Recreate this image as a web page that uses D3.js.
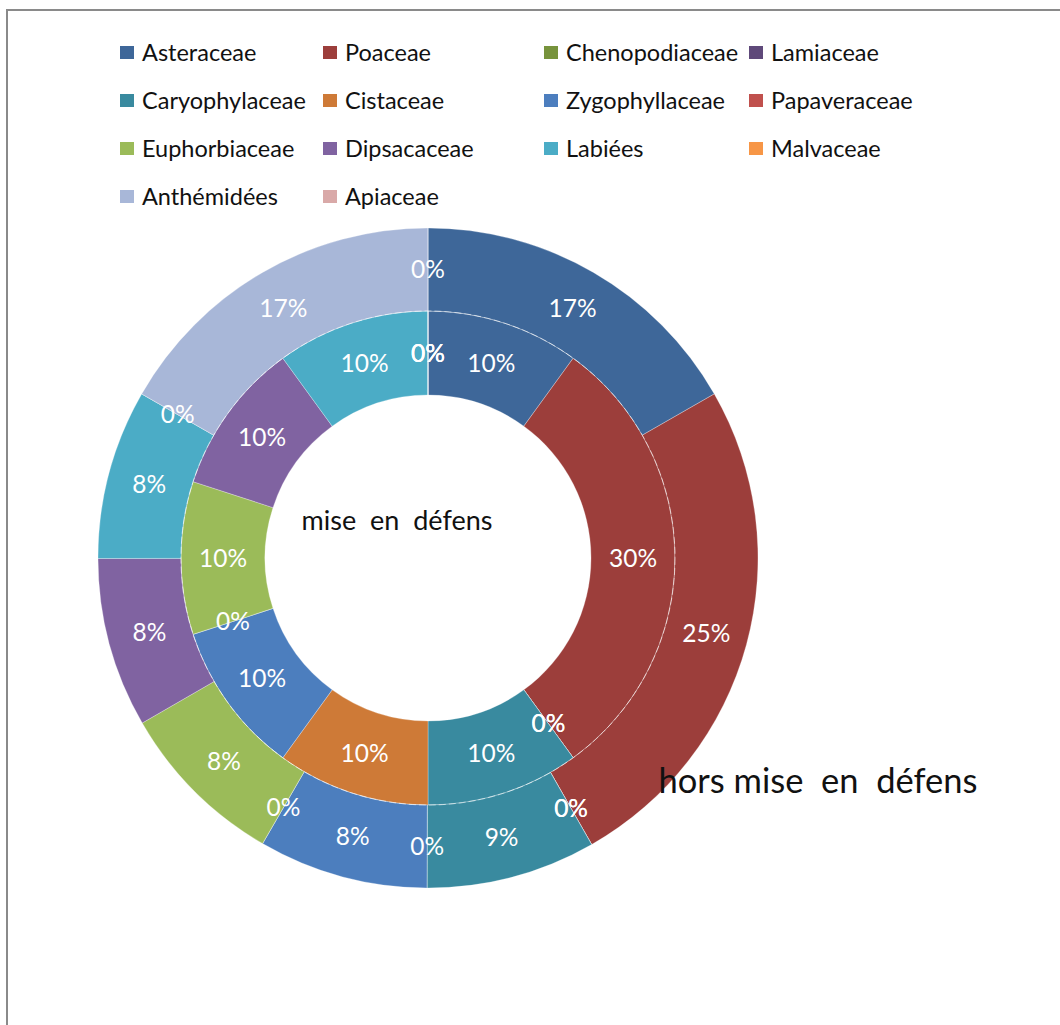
<!DOCTYPE html>
<html>
<head>
<meta charset="utf-8">
<script src="https://cdn.jsdelivr.net/npm/d3@7"></script>
<style>
  body { margin: 0; background: #fff; }
  svg { display: block; font-family: Lato, "Open Sans", sans-serif; }
</style>
</head>
<body>
<div id="viz-container"></div>
<script>
// families, in legend / slice order
const families = ['Asteraceae', 'Poaceae', 'Chenopodiaceae', 'Lamiaceae',
                  'Caryophylaceae', 'Cistaceae', 'Zygophyllaceae', 'Papaveraceae',
                  'Euphorbiaceae', 'Dipsacaceae', 'Labiées', 'Malvaceae',
                  'Anthémidées', 'Apiaceae'];
const colors = ['#3e6799', '#9c3e3b', '#77933c', '#5f497a',
                '#398a9f', '#ce7a37', '#4c7ebe', '#c0504d',
                '#9bbb59', '#8063a1', '#4bacc6', '#f79646',
                '#a8b7d8', '#d9a9a8'];

// inner ring : mise en défens
const innerValues = [10, 30, 0, 0, 10, 10, 10, 0, 10, 10, 10, 0, 0, 0];
const innerLabels = ['10%', '30%', '0%', '0%', '10%', '10%', '10%', '0%', '10%', '10%', '10%', '0%', '0%', '0%'];

// outer ring : hors mise en défens
const outerValues = [16.7, 25, 0, 0, 8.3, 0, 8.3, 0, 8.3, 8.3, 8.3, 0, 16.7, 0];
const outerLabels = ['17%', '25%', '0%', '0%', '9%', '0%', '8%', '0%', '8%', '8%', '8%', '0%', '17%', '0%'];

const width = 1060, height = 1025;
const cx = 428, cy = 558;
const rHole = 163, rMid = 247, rOut = 330;

const viz = d3.select('#viz-container')
    .append('svg')
        .attr('width', width)
        .attr('height', height);

// chart frame
viz.append('rect')
    .attr('x', 7).attr('y', 10)
    .attr('width', width + 20).attr('height', height + 20)
    .attr('fill', 'none')
    .attr('stroke', '#8a8a8a')
    .attr('stroke-width', 2);

const pie = d3.pie().sort(null).value(d => d);
const color = d3.scaleOrdinal().domain(d3.range(families.length)).range(colors);

const g = viz.append('g').attr('transform', `translate(${cx},${cy})`);

const rings = [
    {values: innerValues, labels: innerLabels, r0: rHole, r1: rMid},
    {values: outerValues, labels: outerLabels, r0: rMid, r1: rOut}
];

rings.forEach(ring => {
    const arc = d3.arc().innerRadius(ring.r0).outerRadius(ring.r1);
    ring.arc = arc;
    ring.arcs = pie(ring.values);
    g.append('g').selectAll('path')
        .data(ring.arcs).enter()
        .append('path')
            .attr('d', arc)
            .attr('fill', (d, i) => color(i))
            .attr('stroke', 'rgba(255,255,255,0.35)')
            .attr('stroke-width', 0.8);
});

// light separation between the two rings
g.append('circle')
    .attr('r', rMid)
    .attr('fill', 'none')
    .attr('stroke', 'rgba(255,255,255,0.55)')
    .attr('stroke-width', 1)
    .attr('stroke-dasharray', '7,3');

// data labels (after all slices, zero slices too)
rings.forEach(ring => {
    g.append('g').selectAll('text')
        .data(ring.arcs).enter()
        .append('text')
            .attr('transform', d => `translate(${ring.arc.centroid(d)})`)
            .attr('text-anchor', 'middle')
            .attr('dy', '0.35em')
            .attr('fill', '#fff')
            .attr('font-size', 24.5)
            .text((d, i) => ring.labels[i]);
});

// ring titles
viz.append('text')
    .attr('x', 397).attr('y', 530)
    .attr('text-anchor', 'middle')
    .attr('font-size', 27)
    .attr('fill', '#111')
    .style('white-space', 'pre')
    .text('mise  en  défens');

viz.append('text')
    .attr('x', 818).attr('y', 793)
    .attr('text-anchor', 'middle')
    .attr('font-size', 34.5)
    .attr('fill', '#111')
    .style('white-space', 'pre')
    .text('hors mise  en  défens');

// legend
const legX = [120, 323, 544, 749];
const legY = [53, 101, 149, 197];
const legend = viz.append('g').selectAll('g')
    .data(families).enter()
    .append('g')
        .attr('transform', (d, i) => `translate(${legX[i % 4]},${legY[Math.floor(i / 4)]})`);

legend.append('rect')
    .attr('x', 0).attr('y', -7)
    .attr('width', 14).attr('height', 13)
    .attr('fill', (d, i) => color(i));

legend.append('text')
    .attr('x', 22).attr('y', 0)
    .attr('dy', '0.35em')
    .attr('font-size', 23.5)
    .attr('fill', '#111')
    .text(d => d);
</script>
</body>
</html>
